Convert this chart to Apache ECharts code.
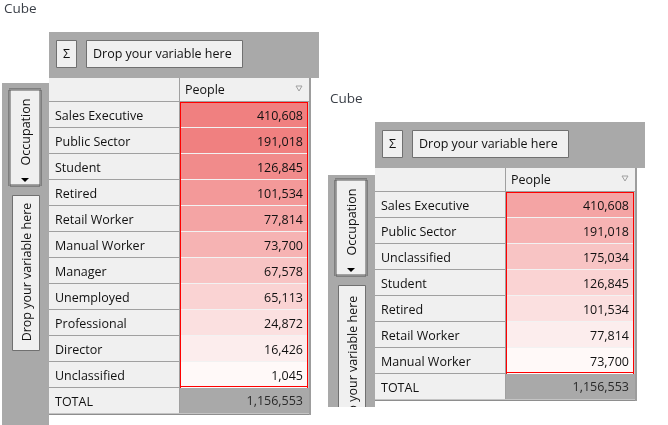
<!DOCTYPE html>
<html>
<head>
<meta charset="utf-8">
<script src="https://cdn.jsdelivr.net/npm/echarts@6/dist/echarts.min.js"></script>
<style>
  html, body { margin: 0; padding: 0; background: #fff; }
  #main { width: 668px; height: 425px; }
</style>
</head>
<body>
<div id="main"></div>
<script>
var columns = ['', 'People'];
var leftRows = ['Sales Executive', 'Public Sector', 'Student', 'Retired', 'Retail Worker',
  'Manual Worker', 'Manager', 'Unemployed', 'Professional', 'Director', 'Unclassified'];
var leftValues = [410608, 191018, 126845, 101534, 77814, 73700, 67578, 65113, 24872, 16426, 1045];
var leftTotal = 1156553;
var rightRows = ['Sales Executive', 'Public Sector', 'Unclassified', 'Student', 'Retired',
  'Retail Worker', 'Manual Worker'];
var rightValues = [410608, 191018, 175034, 126845, 101534, 77814, 73700];
var rightTotal = 1156553;

var FONT = '"Open Sans", "Noto Sans", sans-serif';
var FS = 12.5;
var INK = '#111111';
var GRAY = '#A9A9A9';
var CELL = '#F0F0F0';
var LINE = '#A0A0A0';

var fmt = function (v) { return Number(v).toLocaleString('en-US'); };

// rank 0 = smallest value, colour comes from the visualMap
var rankOf = function (list, v) {
  return list.filter(function (o) { return o < v; }).length;
};

var cellBox = function (api) {
  var p = api.coord([api.value(0), api.value(1)]);
  var s = api.size([1, 1]);
  return {
    x: Math.round(p[0] - s[0] / 2),
    y: Math.round(p[1] - s[1] / 2),
    w: Math.round(s[0]),
    h: Math.round(s[1])
  };
};

var hline = function (x1, x2, y, color, lw) {
  return { type: 'line', shape: { x1: x1, y1: y, x2: x2, y2: y }, style: { stroke: color, lineWidth: lw || 1 } };
};
var vline = function (x, y1, y2, color, lw) {
  return { type: 'line', shape: { x1: x, y1: y1, x2: x, y2: y2 }, style: { stroke: color, lineWidth: lw || 1 } };
};
var txt = function (s, x, y, align, color) {
  return {
    type: 'text',
    style: { text: s, x: x, y: y, align: align, verticalAlign: 'middle',
      fontSize: FS, fontFamily: FONT, fill: color || INK }
  };
};

// header, row labels and total row
var frameCells = function (rows, total) {
  var cells = [
    { pos: [0, 0], kind: 'head', text: '' },
    { pos: [1, 0], kind: 'head', text: columns[1] }
  ];
  rows.forEach(function (r, i) {
    cells.push({ pos: [0, i + 1], kind: 'label', text: r });
  });
  cells.push({ pos: [0, rows.length + 1], kind: 'label', text: 'TOTAL', last: true });
  cells.push({ pos: [1, rows.length + 1], kind: 'total', text: fmt(total), last: true });
  return cells;
};

var frameRender = function (cells) {
  return function (params, api) {
    var c = cells[params.dataIndex];
    var b = cellBox(api);
    var col = api.value(0);
    var top = c.kind === 'head' ? b.y + 2 : b.y;
    var x0 = col === 1 ? b.x + 1 : b.x;
    var kids = [{
      type: 'rect',
      shape: { x: x0, y: top, width: b.x + b.w - x0, height: b.y + b.h - top },
      style: { fill: c.kind === 'total' ? GRAY : CELL }
    }];
    if (c.last) {
      kids.push(hline(b.x, b.x + b.w, b.y + b.h - 0.5, '#c4c4c4'));
      kids.push(hline(b.x, b.x + b.w + 2, b.y + b.h + 0.5, '#8e8e8e'));
    } else {
      kids.push(hline(b.x, b.x + b.w, b.y + b.h - 0.5, LINE));
    }
    if (col === 0) {
      kids.push(vline(b.x + b.w + 0.5, top, b.y + b.h, LINE));
    } else {
      kids.push(vline(b.x + b.w + 1, top, b.y + b.h + 1, '#9d9d9d', 2));
    }
    if (c.kind === 'total') {
      kids.push(txt(c.text, b.x + b.w - 6, b.y + b.h / 2, 'right', '#2a2a2a'));
    } else if (c.text) {
      kids.push(txt(c.text, b.x + 6, b.y + b.h / 2 + 1, 'left'));
    }
    if (c.kind === 'head' && c.text) {
      kids.push({
        type: 'polygon',
        shape: { points: [[b.x + b.w - 13, top + 8], [b.x + b.w - 7, top + 8], [b.x + b.w - 10, top + 13]] },
        style: { fill: 'none', stroke: '#a0a0a0', lineWidth: 1 }
      });
    }
    return { type: 'group', children: kids };
  };
};

var valueRender = function (count) {
  return function (params, api) {
    var i = params.dataIndex;
    var b = cellBox(api);
    var right = b.x + b.w;
    var kids = [{
      type: 'rect',
      shape: { x: b.x + 1, y: b.y, width: b.w - 1, height: b.h },
      style: { fill: api.visual('color') }
    }];
    if (i < count - 1) kids.push(hline(b.x + 1, right, b.y + b.h - 0.5, '#f2f2f2'));
    kids.push(vline(b.x + 1.5, b.y, b.y + b.h, '#ff0000'));
    kids.push(vline(right - 1.5, b.y, b.y + b.h, '#ff0000'));
    kids.push(vline(right - 0.5, b.y, b.y + b.h, '#c8c8c8'));
    kids.push(vline(right + 1, b.y, b.y + b.h, '#9d9d9d', 2));
    if (i === 0) kids.push(hline(b.x + 1, right - 1, b.y + 0.5, '#ff0000'));
    if (i === count - 1) kids.push(hline(b.x + 1, right - 1, b.y + b.h - 1.5, '#ff0000'));
    kids.push(txt(fmt(api.value(2)), right - 6, b.y + b.h / 2 + 1, 'right'));
    return { type: 'group', children: kids };
  };
};

// toolbar, drop zones and captions around one table
var chrome = function (ox, oy, panelTop, panelBottom, dropMid) {
  var els = [
    { type: 'text', left: ox - 45, top: oy - 30, z: 100,
      style: { text: 'Cube', fontSize: 13.5, fontFamily: FONT, fill: '#3a3f47' } },
    { type: 'rect', z: 100, shape: { x: ox, y: oy, width: 270, height: 46 }, style: { fill: GRAY } },
    { type: 'rect', z: 101, shape: { x: ox + 7.5, y: oy + 8.5, width: 20, height: 27 },
      style: { fill: CELL, stroke: '#707070', lineWidth: 1 } },
    { type: 'text', z: 102, style: { text: 'Σ', x: ox + 17.5, y: oy + 22.5, align: 'center',
      verticalAlign: 'middle', fontSize: FS, fontFamily: FONT, fill: INK } },
    { type: 'rect', z: 101, shape: { x: ox + 37.5, y: oy + 8.5, width: 156, height: 27 },
      style: { fill: CELL, stroke: '#707070', lineWidth: 1 } },
    { type: 'text', z: 102, style: { text: 'Drop your variable here', x: ox + 44, y: oy + 22.5,
      align: 'left', verticalAlign: 'middle', fontSize: FS, fontFamily: FONT, fill: INK } },
    { type: 'rect', z: 100, shape: { x: ox - 47, y: panelTop, width: 47, height: panelBottom - panelTop },
      style: { fill: GRAY } },
    { type: 'rect', z: 101, shape: { x: ox - 39.5, y: oy + 57.5, width: 31, height: 96 },
      style: { fill: CELL, stroke: '#555555', lineWidth: 3, lineDash: [1, 1] } },
    { type: 'text', z: 102, rotation: Math.PI / 2, x: ox - 23, y: oy + 100,
      style: { text: 'Occupation', x: 0, y: 0, align: 'center', verticalAlign: 'middle',
        fontSize: FS, fontFamily: FONT, fill: INK } },
    { type: 'polygon', z: 102,
      shape: { points: [[ox - 28, oy + 146], [ox - 20, oy + 146], [ox - 24, oy + 150]] },
      style: { fill: '#000' } },
    { type: 'rect', z: 101, shape: { x: ox - 36.5, y: oy + 163.5, width: 27, height: 155 },
      style: { fill: CELL, stroke: '#707070', lineWidth: 1 } },
    { type: 'text', z: 102, rotation: Math.PI / 2, x: ox - 22, y: dropMid,
      style: { text: 'Drop your variable here', x: 0, y: 0, align: 'center', verticalAlign: 'middle',
        fontSize: FS, fontFamily: FONT, fill: INK } }
  ];
  if (panelBottom < 425) {
    // the side panel is cut off at the bottom of the page
    els.push({ type: 'rect', z: 103, shape: { x: ox - 49, y: panelBottom, width: 49, height: 425 - panelBottom },
      style: { fill: '#fff' } });
  }
  return els;
};

var leftFrame = frameCells(leftRows, leftTotal);
var rightFrame = frameCells(rightRows, rightTotal);

var chart = echarts.init(document.getElementById('main'));
var option = {
  backgroundColor: '#ffffff',
  animation: false,
  grid: [
    { left: 49, top: 76, width: 260, height: 26 * (leftRows.length + 2) },
    { left: 375, top: 166, width: 260, height: 26 * (rightRows.length + 2) }
  ],
  xAxis: [
    { type: 'category', data: columns, gridIndex: 0, show: false },
    { type: 'category', data: columns, gridIndex: 1, show: false }
  ],
  yAxis: [
    { type: 'category', data: [''].concat(leftRows, ['TOTAL']), inverse: true, gridIndex: 0, show: false },
    { type: 'category', data: [''].concat(rightRows, ['TOTAL']), inverse: true, gridIndex: 1, show: false }
  ],
  visualMap: {
    show: false,
    type: 'continuous',
    seriesIndex: [1, 3],
    dimension: 3,
    min: 0,
    max: 10,
    inRange: {
      color: ['#FFF9F8', '#FCEDED', '#FBE0E0', '#FAD3D3', '#F8C4C4', '#F6B3B3',
        '#F4A4A4', '#F39999', '#F18B8B', '#F08080', '#F08080']
    }
  },
  graphic: chrome(49, 32, 83, 425, 272).concat(chrome(375, 122, 175, 407, 365)),
  series: [
    {
      type: 'custom', xAxisIndex: 0, yAxisIndex: 0, silent: true,
      renderItem: frameRender(leftFrame),
      data: leftFrame.map(function (c) { return c.pos; })
    },
    {
      type: 'custom', xAxisIndex: 0, yAxisIndex: 0, silent: true,
      renderItem: valueRender(leftValues.length),
      data: leftValues.map(function (v, i) { return [1, i + 1, v, rankOf(leftValues, v)]; })
    },
    {
      type: 'custom', xAxisIndex: 1, yAxisIndex: 1, silent: true,
      renderItem: frameRender(rightFrame),
      data: rightFrame.map(function (c) { return c.pos; })
    },
    {
      type: 'custom', xAxisIndex: 1, yAxisIndex: 1, silent: true,
      renderItem: valueRender(rightValues.length),
      data: rightValues.map(function (v, i) { return [1, i + 1, v, rankOf(rightValues, v)]; })
    }
  ]
};
chart.setOption(option);
</script>
</body>
</html>
